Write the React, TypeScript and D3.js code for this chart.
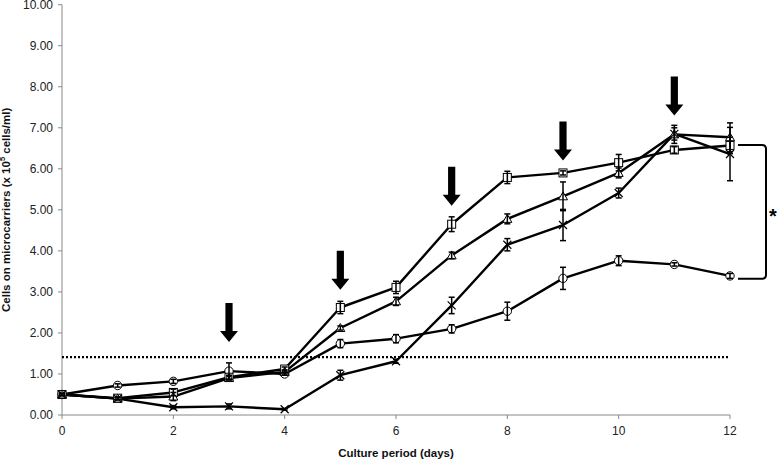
import React from "react";
import * as d3 from "d3";

const days = [0, 1, 2, 3, 4, 5, 6, 7, 8, 9, 10, 11, 12];
const xTicks = [0, 2, 4, 6, 8, 10, 12];
const yTicks = [0, 1, 2, 3, 4, 5, 6, 7, 8, 9, 10];

const circleVals = [0.5, 0.72, 0.82, 1.07, 1.0, 1.74, 1.86, 2.1, 2.53, 3.33, 3.76, 3.67, 3.39];
const circleErr = [0.03, 0.04, 0.05, 0.2, 0.03, 0.1, 0.1, 0.1, 0.22, 0.27, 0.12, 0.04, 0.06];
const squareVals = [0.5, 0.41, 0.55, 0.92, 1.12, 2.62, 3.11, 4.65, 5.79, 5.9, 6.15, 6.46, 6.57];
const squareErr = [0.03, 0.03, 0.08, 0.05, 0.05, 0.15, 0.15, 0.18, 0.15, 0.05, 0.2, 0.08, 0.2];
const triangleVals = [0.5, 0.4, 0.45, 0.9, 1.05, 2.12, 2.77, 3.89, 4.78, 5.33, 5.9, 6.84, 6.77];
const triangleErr = [0.02, 0.03, 0.1, 0.05, 0.05, 0.05, 0.1, 0.08, 0.12, 0.35, 0.12, 0.22, 0.35];
const crossVals = [0.5, 0.4, 0.19, 0.21, 0.14, 0.97, 1.31, 2.67, 4.15, 4.63, 5.41, 6.85, 6.36];
const crossErr = [0.02, 0.03, 0.04, 0.06, 0.02, 0.12, 0.05, 0.2, 0.15, 0.38, 0.12, 0.15, 0.65];

const thresholdValue = 1.41;
const arrowDays = [3, 5, 7, 9, 11];
const arrowTips = [1.78, 3.05, 5.1, 6.2, 7.3];
const bracketTop = 6.58;
const bracketBottom = 3.32;

const FONT = "'Liberation Sans', Arial, sans-serif";

type Series = { vals: number[]; err: number[]; shape: string };
const series: Series[] = [
  { vals: circleVals, err: circleErr, shape: "circle" },
  { vals: squareVals, err: squareErr, shape: "square" },
  { vals: triangleVals, err: triangleErr, shape: "triangle" },
  { vals: crossVals, err: crossErr, shape: "cross" },
];

export default function App() {
  const x = d3.scaleLinear().domain([0, 12]).range([62, 730]);
  const y = d3.scaleLinear().domain([0, 10]).range([415, 4.7]);
  const line = d3
    .line<number>()
    .x((_, i) => x(days[i]))
    .y((v) => y(v));

  const marker = (shape: string, cx: number, cy: number, key: string) => {
    const s = 4;
    if (shape === "circle")
      return <circle key={key} cx={cx} cy={cy} r={4.2} fill="#fff" stroke="#000" strokeWidth={1} />;
    if (shape === "square")
      return <rect key={key} x={cx - s} y={cy - s} width={2 * s} height={2 * s} fill="#fff" stroke="#000" strokeWidth={1} />;
    if (shape === "triangle")
      return (
        <path key={key} d={`M${cx},${cy - 4.5}L${cx + 4.5},${cy + 3.5}L${cx - 4.5},${cy + 3.5}Z`} fill="#fff" stroke="#000" strokeWidth={1} />
      );
    return (
      <path key={key} d={`M${cx - 4},${cy - 4}L${cx + 4},${cy + 4}M${cx - 4},${cy + 4}L${cx + 4},${cy - 4}`} stroke="#000" strokeWidth={1.2} fill="none" />
    );
  };

  const x12 = x(12);
  const bt = y(bracketTop);
  const bb = y(bracketBottom);
  const bx0 = x12 + 8;
  const bx1 = x12 + 36;

  return (
    <svg width={777} height={461} style={{ position: "absolute", left: 0, top: 0, background: "#fff" }} fontFamily={FONT}>
      {/* axes */}
      <line x1={x(0)} x2={x(0)} y1={y(10)} y2={y(0)} stroke="#888" strokeWidth={1} />
      <line x1={x(0)} x2={x(12)} y1={y(0)} y2={y(0)} stroke="#888" strokeWidth={1} />
      {yTicks.map((t) => (
        <g key={"y" + t}>
          <line x1={x(0) - 4} x2={x(0)} y1={y(t)} y2={y(t)} stroke="#888" />
          <text x={x(0) - 9} y={y(t) + 4} fontSize={12} textAnchor="end" fill="#222">
            {t.toFixed(2)}
          </text>
        </g>
      ))}
      {xTicks.map((t) => (
        <g key={"x" + t}>
          <line x1={x(t)} x2={x(t)} y1={y(0)} y2={y(0) + 4} stroke="#888" />
          <text x={x(t)} y={435} fontSize={12} textAnchor="middle" fill="#222">
            {t}
          </text>
        </g>
      ))}
      <text x={(x(0) + x(12)) / 2} y={457} fontSize={11.5} fontWeight="bold" textAnchor="middle" fill="#111">
        Culture period (days)
      </text>
      <text transform={`translate(10, ${(y(0) + y(10)) / 2}) rotate(-90)`} fontSize={11.5} fontWeight="bold" textAnchor="middle" fill="#111">
        Cells on microcarriers (x 10<tspan fontSize={7.5} dy={-5}>5</tspan>
        <tspan dy={5}> cells/ml)</tspan>
      </text>

      {/* threshold */}
      <line x1={x(0)} x2={x(12)} y1={y(thresholdValue)} y2={y(thresholdValue)} stroke="#000" strokeWidth={2.2} strokeDasharray="2,2" />

      {/* lines */}
      {series.map((s, i) => (
        <path key={"l" + i} d={line(s.vals) || ""} fill="none" stroke="#000" strokeWidth={2.4} strokeLinejoin="round" />
      ))}
      {/* markers */}
      {series.map((s, i) => s.vals.map((v, j) => marker(s.shape, x(days[j]), y(v), `m${i}-${j}`)))}
      {/* error bars */}
      {series.map((s, i) =>
        s.vals.map((v, j) => {
          const cx = x(days[j]);
          const y0 = y(v - s.err[j]);
          const y1 = y(v + s.err[j]);
          return (
            <g key={`e${i}-${j}`} stroke="#000" strokeWidth={1.5}>
              <line x1={cx} x2={cx} y1={y0} y2={y1} />
              <line x1={cx - 3} x2={cx + 3} y1={y0} y2={y0} />
              <line x1={cx - 3} x2={cx + 3} y1={y1} y2={y1} />
            </g>
          );
        })
      )}

      {/* arrows */}
      {arrowDays.map((d, i) => {
        const cx = x(d);
        const ty = y(arrowTips[i]);
        const hl = 11;
        const len = 39;
        const sw = 3.6;
        const hw = 9;
        return (
          <path
            key={"a" + i}
            d={`M${cx - sw},${ty - len}L${cx + sw},${ty - len}L${cx + sw},${ty - hl}L${cx + hw},${ty - hl}L${cx},${ty}L${cx - hw},${ty - hl}L${cx - sw},${ty - hl}Z`}
            fill="#000"
          />
        );
      })}

      {/* bracket */}
      <path
        d={`M${bx0},${bt}L${bx1 - 4},${bt}Q${bx1},${bt} ${bx1},${bt + 4}L${bx1},${bb - 4}Q${bx1},${bb} ${bx1 - 4},${bb}L${bx0},${bb}`}
        fill="none"
        stroke="#000"
        strokeWidth={2}
      />
      <text x={bx1 + 7} y={(bt + bb) / 2 + 11} fontSize={20} fontWeight="bold" textAnchor="middle" fill="#000">
        *
      </text>
    </svg>
  );
}
